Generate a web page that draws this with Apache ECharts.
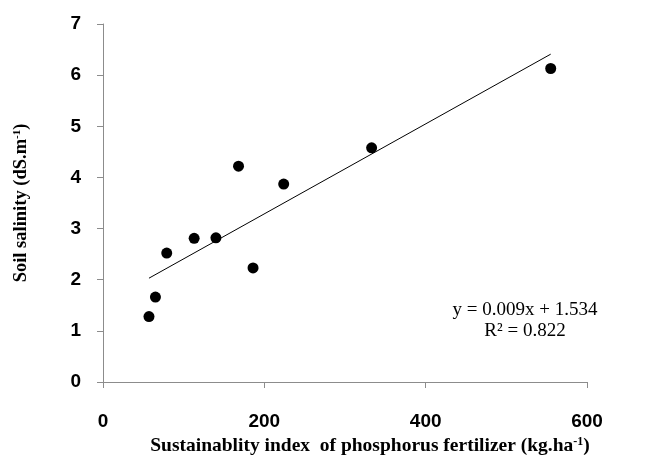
<!DOCTYPE html>
<html>
<head>
<meta charset="utf-8">
<script src="https://cdn.jsdelivr.net/npm/echarts@6/dist/echarts.min.js"></script>
<style>
  html, body { margin: 0; padding: 0; background: #fff; }
  #chart { width: 658px; height: 459px; }
</style>
</head>
<body>
<div id="chart"></div>
<script>
// measured points: sustainability index vs soil salinity
const indexValues = [57, 65, 79, 113, 140, 168, 186, 224, 333, 555]
const salinityValues = [1.28, 1.66, 2.52, 2.81, 2.82, 4.22, 2.23, 3.87, 4.58, 6.13]

// linear trend line ends, as drawn
const trendX = [57, 555]
const trendY = [2.03, 6.41]

const xTicks = [0, 200, 400, 600]
const yTicks = [0, 1, 2, 3, 4, 5, 6, 7]

const equationLines = ['y = 0.009x + 1.534', 'R² = 0.822']

const tickFont = '"Liberation Sans", Arial, sans-serif'
const serif = '"Liberation Serif", "Times New Roman", serif'
const axisGray = '#8c8c8c'

const chart = echarts.init(document.getElementById('chart'))

const option = {
  animation: false,
  backgroundColor: '#fff',
  grid: { left: 103, right: 71, top: 24, bottom: 77, outerBoundsMode: 'none', containLabel: false },
  xAxis: {
    type: 'value',
    min: xTicks[0],
    max: xTicks[xTicks.length - 1],
    interval: 200,
    name: '{a|Sustainablity index  of phosphorus fertilizer (kg.ha}{s|-1}{a|)}',
    nameLocation: 'middle',
    nameGap: 51,
    nameTextStyle: {
      padding: [0, 0, 0, 50],
      rich: {
        a: { fontFamily: serif, fontWeight: 'bold', fontSize: 19.5, color: '#000' },
        s: { fontFamily: serif, fontWeight: 'bold', fontSize: 12, color: '#000', verticalAlign: 'top', padding: [0, 0, 7, 0] }
      }
    },
    axisLine: { show: true, lineStyle: { color: axisGray, width: 1 } },
    axisTick: { show: true, length: 6, lineStyle: { color: axisGray } },
    axisLabel: {
      margin: 30,
      fontFamily: tickFont,
      fontWeight: 'bold',
      fontSize: 19,
      color: '#000',
      formatter: v => xTicks.includes(v) ? String(v) : ''
    },
    splitLine: { show: false }
  },
  yAxis: {
    type: 'value',
    min: yTicks[0],
    max: yTicks[yTicks.length - 1],
    interval: 1,
    name: '{a|Soil salinity (dS.m}{s|-1}{a|)}',
    nameLocation: 'middle',
    nameRotate: 90,
    nameGap: 72,
    nameTextStyle: {
      rich: {
        a: { fontFamily: serif, fontWeight: 'bold', fontSize: 18.5, color: '#000' },
        s: { fontFamily: serif, fontWeight: 'bold', fontSize: 11, color: '#000', verticalAlign: 'top', padding: [0, 0, 7, 0] }
      }
    },
    axisLine: { show: true, lineStyle: { color: axisGray, width: 1 } },
    axisTick: { show: true, length: 6, lineStyle: { color: axisGray } },
    axisLabel: {
      margin: 22,
      fontFamily: tickFont,
      fontWeight: 'bold',
      fontSize: 19,
      color: '#000'
    },
    splitLine: { show: false }
  },
  series: [
    {
      type: 'line',
      data: trendX.map((x, i) => [x, trendY[i]]),
      symbol: 'none',
      lineStyle: { color: '#000', width: 1 },
      z: 2
    },
    {
      type: 'scatter',
      data: indexValues.map((x, i) => [x, salinityValues[i]]),
      symbol: 'circle',
      symbolSize: 11,
      itemStyle: { color: '#000', opacity: 1 },
      z: 3
    }
  ],
  graphic: [
    {
      type: 'text',
      x: 525,
      y: 300,
      style: {
        text: equationLines.join('\n'),
        fontFamily: serif,
        fontSize: 19,
        lineHeight: 21,
        align: 'center',
        verticalAlign: 'top',
        fill: '#000'
      }
    }
  ]
}

chart.setOption(option)
</script>
</body>
</html>
